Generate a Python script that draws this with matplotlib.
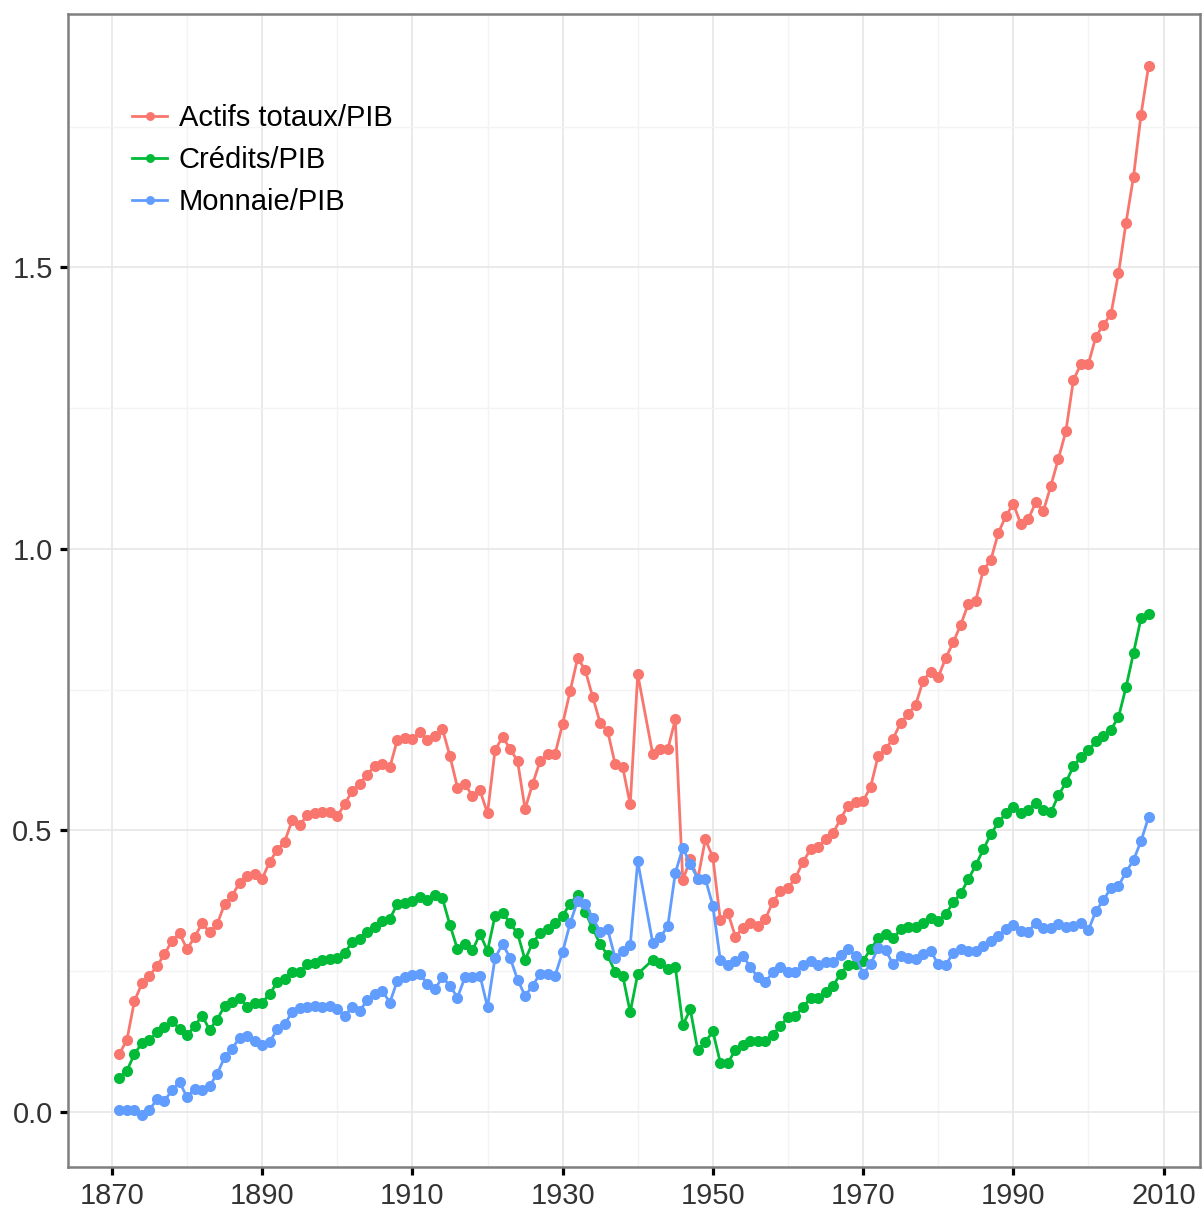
import matplotlib
matplotlib.use("Agg")
import matplotlib.pyplot as plt
from matplotlib.ticker import MultipleLocator

plt.rcParams["font.family"] = ["Liberation Sans", "DejaVu Sans"]

# annual data, 1941 is missing in the source
years = [y for y in range(1871, 2009) if y != 1941]

actifs = [
    0.103, 0.128, 0.197, 0.228, 0.242, 0.259, 0.280, 0.304, 0.317, 0.289,  # 1871-1880
    0.310, 0.335, 0.319, 0.333, 0.369, 0.384, 0.407, 0.419, 0.422, 0.414,  # 1881-1890
    0.444, 0.465, 0.480, 0.518, 0.509, 0.527, 0.531, 0.532, 0.532, 0.525,  # 1891-1900
    0.547, 0.570, 0.583, 0.599, 0.615, 0.617, 0.612, 0.661, 0.664, 0.663,  # 1901-1910
    0.674, 0.660, 0.667, 0.680, 0.632, 0.576, 0.582, 0.561, 0.571, 0.530,  # 1911-1920
    0.642, 0.666, 0.645, 0.623, 0.538, 0.582, 0.623, 0.635, 0.636, 0.689,  # 1921-1930
    0.747, 0.806, 0.785, 0.737, 0.691, 0.676, 0.617, 0.612, 0.546, 0.777,  # 1931-1940
    0.635, 0.645, 0.644, 0.697, 0.411, 0.449, 0.414, 0.484, 0.452,         # 1942-1950
    0.340, 0.354, 0.311, 0.327, 0.335, 0.330, 0.343, 0.373, 0.392, 0.397,  # 1951-1960
    0.416, 0.444, 0.466, 0.471, 0.484, 0.495, 0.520, 0.544, 0.550, 0.552,  # 1961-1970
    0.577, 0.632, 0.645, 0.663, 0.691, 0.706, 0.723, 0.766, 0.782, 0.772,  # 1971-1980
    0.806, 0.834, 0.865, 0.902, 0.908, 0.962, 0.980, 1.028, 1.058, 1.080,  # 1981-1990
    1.044, 1.053, 1.083, 1.067, 1.112, 1.160, 1.209, 1.300, 1.328, 1.329,  # 1991-2000
    1.377, 1.398, 1.417, 1.489, 1.579, 1.661, 1.771, 1.857,                # 2001-2008
]

credits = [
    0.061, 0.073, 0.103, 0.122, 0.128, 0.141, 0.150, 0.162, 0.147, 0.136,
    0.152, 0.171, 0.146, 0.164, 0.188, 0.196, 0.203, 0.187, 0.194, 0.194,
    0.209, 0.230, 0.236, 0.249, 0.248, 0.262, 0.265, 0.270, 0.271, 0.274,
    0.283, 0.301, 0.307, 0.320, 0.329, 0.339, 0.343, 0.369, 0.371, 0.375,
    0.382, 0.376, 0.385, 0.379, 0.332, 0.289, 0.298, 0.287, 0.316, 0.286,
    0.348, 0.354, 0.335, 0.317, 0.270, 0.300, 0.317, 0.324, 0.335, 0.348,
    0.370, 0.385, 0.355, 0.326, 0.298, 0.278, 0.248, 0.242, 0.177, 0.245,
    0.270, 0.264, 0.253, 0.258, 0.154, 0.182, 0.109, 0.124, 0.143,
    0.087, 0.087, 0.110, 0.118, 0.125, 0.126, 0.125, 0.137, 0.153, 0.168,
    0.171, 0.186, 0.202, 0.203, 0.213, 0.224, 0.245, 0.261, 0.262, 0.268,
    0.289, 0.308, 0.316, 0.308, 0.324, 0.328, 0.329, 0.335, 0.345, 0.339,
    0.351, 0.372, 0.388, 0.413, 0.438, 0.466, 0.493, 0.514, 0.530, 0.542,
    0.530, 0.537, 0.549, 0.536, 0.532, 0.562, 0.585, 0.614, 0.630, 0.642,
    0.658, 0.668, 0.679, 0.701, 0.754, 0.815, 0.877, 0.884,
]

monnaie = [
    0.004, 0.004, 0.004, -0.005, 0.004, 0.022, 0.020, 0.038, 0.053, 0.026,
    0.041, 0.038, 0.046, 0.067, 0.097, 0.112, 0.132, 0.134, 0.126, 0.118,
    0.124, 0.147, 0.156, 0.177, 0.184, 0.187, 0.188, 0.187, 0.188, 0.183,
    0.171, 0.186, 0.180, 0.198, 0.210, 0.215, 0.194, 0.233, 0.239, 0.243,
    0.245, 0.227, 0.218, 0.239, 0.224, 0.203, 0.239, 0.239, 0.242, 0.186,
    0.273, 0.298, 0.274, 0.235, 0.206, 0.224, 0.245, 0.245, 0.242, 0.284,
    0.335, 0.375, 0.369, 0.345, 0.319, 0.324, 0.273, 0.285, 0.296, 0.445,
    0.300, 0.310, 0.330, 0.424, 0.469, 0.440, 0.414, 0.414, 0.366,
    0.269, 0.260, 0.268, 0.277, 0.257, 0.239, 0.231, 0.248, 0.257, 0.248,
    0.249, 0.261, 0.268, 0.261, 0.267, 0.267, 0.278, 0.290, 0.277, 0.245,
    0.262, 0.291, 0.287, 0.262, 0.277, 0.274, 0.271, 0.280, 0.286, 0.262,
    0.261, 0.282, 0.290, 0.285, 0.286, 0.295, 0.303, 0.313, 0.324, 0.331,
    0.321, 0.320, 0.336, 0.327, 0.326, 0.334, 0.329, 0.330, 0.336, 0.323,
    0.357, 0.376, 0.398, 0.401, 0.426, 0.447, 0.481, 0.523,
]

labels = ["Actifs totaux/PIB", "Crédits/PIB", "Monnaie/PIB"]
colors = ["#F8766D", "#00BA38", "#619CFF"]

fig = plt.figure(figsize=(12.03, 12.10), dpi=100)
ax = fig.add_axes([0.0565, 0.0355, 0.941, 0.953])

for series, lab, col in zip([actifs, credits, monnaie], labels, colors):
    ax.plot(years, series, color=col, lw=2.0, marker="o", markersize=8,
            markeredgewidth=0, label=lab)

ax.set_xlim(1864.15, 2014.85)
ax.set_ylim(-0.098, 1.95)
ax.xaxis.set_minor_locator(MultipleLocator(10))
ax.yaxis.set_major_locator(MultipleLocator(0.5))
ax.yaxis.set_minor_locator(MultipleLocator(0.25))
ax.set_xticks(range(1870, 2011, 20))
ax.yaxis.set_major_formatter(plt.FuncFormatter(lambda v, p: f"{v:.1f}"))

ax.grid(which="major", color="#e6e6e6", lw=1.2)
ax.grid(which="minor", color="#f3f3f3", lw=1.0)
ax.set_axisbelow(True)

for sp in ax.spines.values():
    sp.set_color("#7f7f7f")
    sp.set_linewidth(1.8)

ax.tick_params(which="major", length=6, width=2.3, color="black",
               labelsize=21, labelcolor="#333333", pad=5)
ax.tick_params(which="minor", length=0)

leg = ax.legend(loc="upper left", bbox_to_anchor=(0.057, 0.922), frameon=False,
                fontsize=21, handlelength=1.2, handletextpad=0.38,
                labelspacing=0.48, borderpad=0, borderaxespad=0, markerscale=0.8)

fig.savefig("out.png", dpi=100)
